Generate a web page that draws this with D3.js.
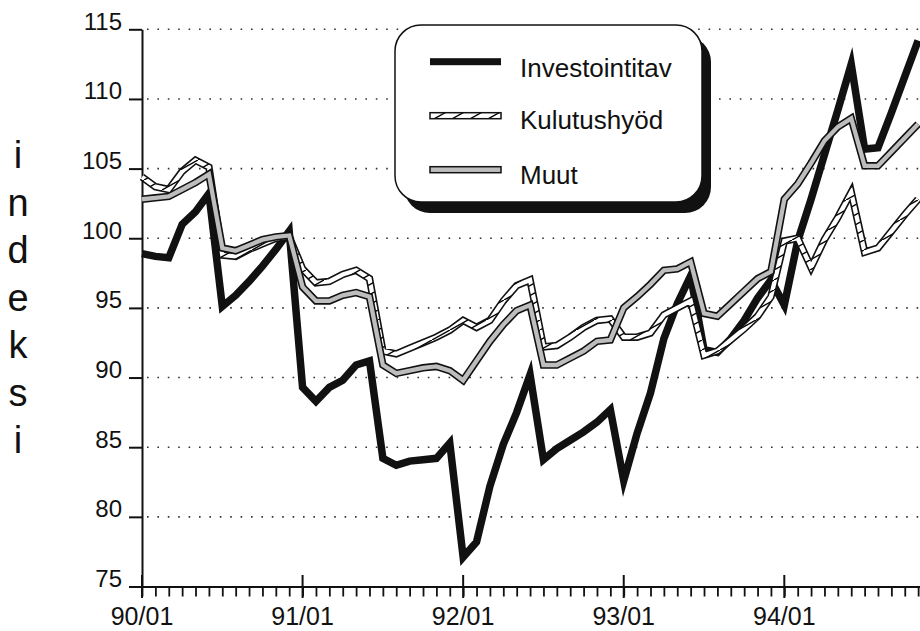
<!DOCTYPE html>
<html><head><meta charset="utf-8">
<script src="https://cdn.jsdelivr.net/npm/d3@7"></script>
<style>
body{margin:0;background:#fff;}
svg{display:block;font-family:"Liberation Sans",Arial,Helvetica,sans-serif;}
</style>
</head><body>
<svg id="c" width="920" height="631"></svg>
<script>
// ---- data (monthly index values, 90/01 .. 94/11) ----
const investointitav=[98.9,98.7,98.6,101.0,101.9,103.2,95.1,95.9,96.9,98.0,99.2,100.5,
  89.3,88.3,89.3,89.8,90.9,91.2,84.2,83.7,84.0,84.1,84.2,85.3,
  77.1,78.2,82.2,85.2,87.5,90.2,84.1,84.9,85.5,86.1,86.8,87.7,
  82.6,86.0,88.9,92.8,95.3,97.3,92.0,91.8,92.8,94.1,95.7,97.0,
  95.2,99.8,102.8,106.0,109.2,112.5,106.4,106.5,109.0,111.6,114.2];
const kulutushyod=[104.4,103.7,103.5,104.8,105.6,105.1,98.8,98.7,99.2,99.6,100.0,100.1,
  97.8,96.8,96.9,97.4,97.7,97.1,91.9,91.7,92.1,92.5,92.9,93.4,
  94.1,93.6,94.1,95.5,96.6,97.0,92.2,92.3,92.9,93.6,94.1,94.2,
  92.9,92.9,93.2,94.5,95.0,95.5,91.6,91.9,92.7,93.5,94.4,95.8,
  99.8,100.0,97.9,99.9,101.5,103.3,99.0,99.3,100.5,101.7,102.8];
const muut=[102.8,102.9,103.0,103.5,104.0,104.6,99.3,99.1,99.5,99.9,100.1,100.2,
  96.5,95.5,95.5,95.9,96.1,95.8,90.9,90.3,90.5,90.7,90.8,90.5,
  89.8,91.2,92.6,93.8,94.8,95.2,90.9,90.9,91.4,91.9,92.6,92.7,
  95.0,95.8,96.7,97.7,97.8,98.3,94.6,94.4,95.3,96.2,97.1,97.6,
  102.8,103.9,105.4,107.0,108.0,108.6,105.2,105.2,106.2,107.2,108.2];
const seriesNames=["Investointitav","Kulutushyöd","Muut"];
const yTicks=[75,80,85,90,95,100,105,110,115];
const yearTickLabels=["90/01","91/01","92/01","93/01","94/01"];
const yearTickIndex=[0,12,24,36,48];
const axisTitle="indeksi";

const svg=d3.select("#c");
const x=d3.scaleLinear().domain([0,58.14]).range([142,920]);
const y=d3.scaleLinear().domain([75,115]).range([586.5,29.3]);

const defs=svg.append("defs");
const pat=defs.append("pattern").attr("id","hatch").attr("patternUnits","userSpaceOnUse")
  .attr("width",18).attr("height",10);
pat.append("rect").attr("width",18).attr("height",10).attr("fill","#fff");
pat.append("line").attr("x1",0).attr("y1",10).attr("x2",18).attr("y2",0)
  .attr("stroke","#000").attr("stroke-width",1.4);

// grid
svg.append("g").selectAll("line").data(yTicks.filter(d=>d>75)).join("line")
  .attr("x1",147).attr("x2",920).attr("y1",d=>y(d)).attr("y2",d=>y(d))
  .attr("stroke","#333").attr("stroke-width",1.6).attr("stroke-dasharray","1.6,8.8");

// y axis
const yAxis=svg.append("g").attr("transform","translate(142,0)")
  .call(d3.axisLeft(y).tickValues(yTicks).tickSize(13).tickSizeOuter(0).tickFormat(d3.format("d")));
yAxis.select(".domain").attr("stroke","#111").attr("stroke-width",2);
yAxis.selectAll(".tick line").attr("stroke","#111").attr("stroke-width",2);
yAxis.selectAll(".tick text").attr("x",-20).attr("dy","0").attr("fill","#111")
  .style("font-size","24px").style("font-family","'Liberation Sans',Arial,sans-serif");

// x axis
const xAxis=svg.append("g").attr("transform","translate(0,586.5)")
  .call(d3.axisBottom(x).tickValues(d3.range(0,59)).tickSize(10).tickSizeOuter(0).tickFormat(""));
xAxis.select(".domain").attr("stroke","#111").attr("stroke-width",2);
xAxis.selectAll(".tick line").attr("stroke","#111").attr("stroke-width",1.8);
const major=svg.append("g");
major.selectAll("line").data(yearTickIndex).join("line")
  .attr("x1",d=>x(d)).attr("x2",d=>x(d)).attr("y1",575).attr("y2",598)
  .attr("stroke","#111").attr("stroke-width",2);
major.selectAll("text").data(yearTickIndex).join("text")
  .attr("x",d=>x(d)).attr("y",625).attr("text-anchor","middle")
  .style("font-size","25px").attr("fill","#111")
  .text((d,i)=>yearTickLabels[i]);

// axis title (stacked letters)
svg.append("g").selectAll("text").data(axisTitle.split("")).join("text")
  .attr("x",18).attr("y",(d,i)=>168+i*47.5).attr("text-anchor","middle")
  .style("font-size","38px").attr("fill","#111").text(d=>d);

// lines
const line=d3.line().x((d,i)=>x(i)).y(d=>y(d));
const g=svg.append("g");
g.append("path").datum(investointitav).attr("d",line).attr("fill","none")
  .attr("stroke","#111").attr("stroke-width",7.5).attr("stroke-linejoin","miter").attr("stroke-miterlimit",6);
function doubleLine(data,inner){
  g.append("path").datum(data).attr("d",line).attr("fill","none")
    .attr("stroke","#111").attr("stroke-width",7.5).attr("stroke-linejoin","miter").attr("stroke-miterlimit",4);
  g.append("path").datum(data).attr("d",line).attr("fill","none")
    .attr("stroke",inner).attr("stroke-width",4.3).attr("stroke-linejoin","miter").attr("stroke-miterlimit",4);
}
doubleLine(kulutushyod,"url(#hatch)");
doubleLine(muut,"#bdbdbd");

// legend
const lg=svg.append("g");
lg.append("rect").attr("x",404).attr("y",36).attr("width",307).attr("height",177).attr("rx",26).attr("fill","#111");
lg.append("rect").attr("x",395).attr("y",25).attr("width",307).attr("height",177).attr("rx",26)
  .attr("fill","#fff").attr("stroke","#111").attr("stroke-width",1.5);
const legY=[61.7,115.7,169.7];
lg.append("rect").attr("x",430).attr("y",legY[0]-3.5).attr("width",71).attr("height",7).attr("fill","#111");
lg.append("rect").attr("x",430).attr("y",legY[1]-3).attr("width",71).attr("height",6)
  .attr("fill","url(#hatch)").attr("stroke","#111").attr("stroke-width",1.5);
lg.append("rect").attr("x",430).attr("y",legY[2]-3).attr("width",71).attr("height",6)
  .attr("fill","#bdbdbd").attr("stroke","#111").attr("stroke-width",1.5);
lg.selectAll("text.lt").data(seriesNames).join("text").attr("class","lt")
  .attr("x",520).attr("y",(d,i)=>[76.5,128.5,184][i])
  .style("font-size","26px").attr("fill","#111").text(d=>d);
</script>
</body></html>
